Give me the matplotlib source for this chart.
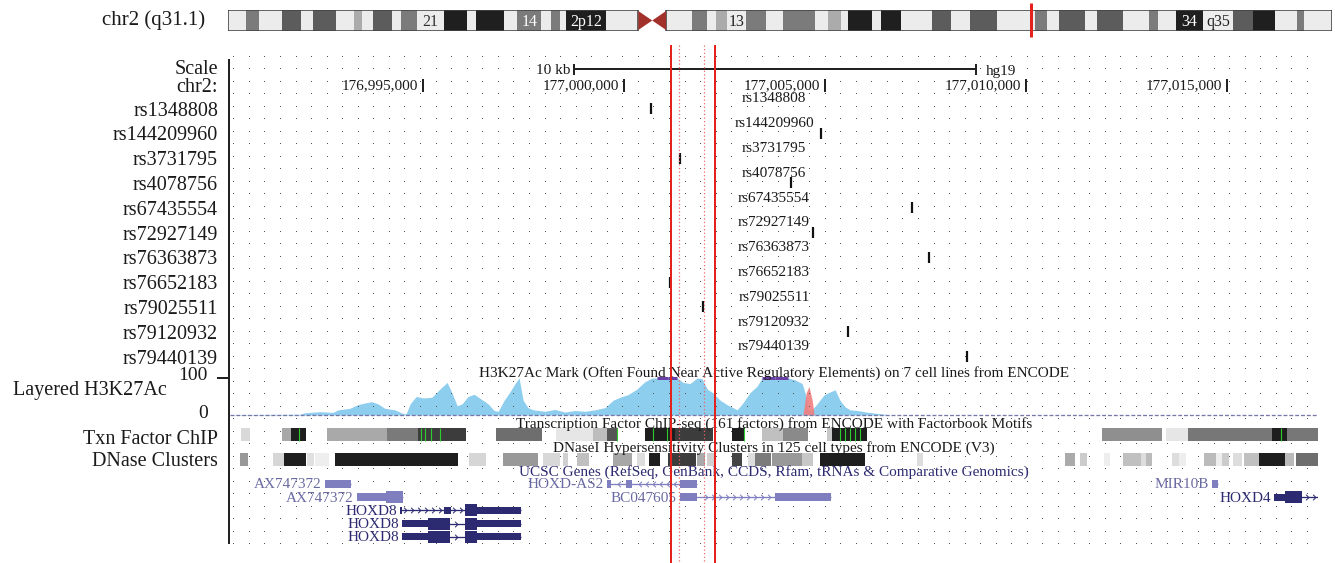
import numpy as np
import matplotlib
matplotlib.use("Agg")
import matplotlib.pyplot as plt
from matplotlib import transforms
from matplotlib.path import Path
from matplotlib.patches import Rectangle, Polygon
from matplotlib.lines import Line2D

plt.rcParams['font.family'] = ['Liberation Serif', 'DejaVu Serif']

# ------------------------------------------------------------------ data
view_kb = (176990.20, 177017.26)            # chr2 window shown (kb)
ruler_kb = [176995, 177000, 177005, 177010, 177015]
ruler_labels = ['176,995,000', '177,000,000', '177,005,000', '177,010,000', '177,015,000']
scalebar_kb = (176998.75, 177008.75)
highlight_kb = [177001.18, 177002.26]
highlight_dotted_kb = [177001.36, 177002.00]

snp_ids = ['rs1348808', 'rs144209960', 'rs3731795', 'rs4078756', 'rs67435554',
           'rs72927149', 'rs76363873', 'rs76652183', 'rs79025511', 'rs79120932',
           'rs79440139']
snp_pos_kb = [177000.67, 177004.90, 177001.39, 177004.15, 177007.16,
              177004.70, 177007.59, 177001.14, 177001.97, 177005.57, 177008.53]

# Layered H3K27Ac signal (0-100 scale, values above 100 are clipped)
h3k_pos_kb = [176990.20, 176991.94, 176992.06, 176992.44, 176992.76, 176992.89, 176993.18,
              176993.38, 176993.58, 176993.73, 176993.88, 176994.05, 176994.30, 176994.48,
              176994.58, 176994.68, 176994.83, 176995.02, 176995.22, 176995.42, 176995.60,
              176995.72, 176995.85, 176995.97, 176996.12, 176996.27, 176996.42, 176996.62,
              176996.77, 176996.87, 176997.02, 176997.16, 176997.29, 176997.39, 176997.49,
              176997.61, 176997.74, 176998.03, 176998.28, 176998.53, 176998.78, 176999.03,
              176999.28, 176999.53, 176999.73, 176999.90, 177000.10, 177000.32, 177000.52,
              177000.70, 177000.82, 177001.10, 177001.32, 177001.47, 177001.64, 177001.82,
              177001.94, 177002.07, 177002.21, 177002.39, 177002.56, 177002.71, 177002.81,
              177002.94, 177003.13, 177003.31, 177003.43, 177003.76, 177004.08, 177004.25,
              177004.43, 177004.53, 177004.58, 177004.68, 177004.80, 177004.98, 177005.12,
              177005.25, 177005.37, 177005.50, 177005.62, 177005.82, 177006.02, 177006.24,
              177006.49, 177006.62, 177017.26]
h3k_val = [1, 2, 6, 9, 7, 14, 18, 28, 33, 36, 30, 18, 14, 5, 3, 30, 50, 46, 48, 70, 88,
           60, 25, 30, 50, 56, 45, 30, 12, 10, 40, 62, 85, 100, 40, 20, 14, 10, 15, 8, 12,
           10, 14, 20, 40, 48, 55, 70, 90, 100, 110, 115, 108, 88, 85, 100, 98, 70, 60, 40,
           28, 20, 14, 30, 60, 78, 105, 110, 105, 95, 85, 50, 12, 15, 30, 55, 62, 68, 40,
           22, 14, 12, 8, 5, 2, 0, 0]
h3k_red_pos_kb = [177004.45, 177004.53, 177004.60, 177004.68, 177004.73]
h3k_red_val = [0, 60, 77, 40, 0]

# Txn Factor ChIP clusters
txn_start = [176990.47, 176991.49, 176991.72, 176992.61, 176994.10, 176994.88, 176996.82,
             176998.31, 176999.23, 176999.58, 177000.52, 177001.27, 177002.69, 177003.43,
             177003.96, 177005.05, 177005.17, 177011.89, 177013.48, 177014.03, 177016.12,
             177016.49]
txn_end = [176990.70, 176991.72, 176992.09, 176994.10, 176994.88, 176996.07, 176997.96,
           176999.23, 176999.58, 176999.85, 177001.27, 177002.21, 177003.01, 177003.96,
           177004.58, 177005.17, 177006.05, 177013.38, 177014.03, 177016.12, 177016.49,
           177017.26]
txn_shade = ['#d9d9d9', '#a8a8a8', '#1e1e1e', '#a9a9a9', '#7a7a7a', '#3c3c3c', '#6e6e6e',
             '#e6e6e6', '#bdbdbd', '#555555', '#1e1e1e', '#3c3c3c', '#1e1e1e', '#c0c0c0',
             '#8a8a8a', '#c8c8c8', '#1e1e1e', '#8f8f8f', '#e6e6e6', '#777777', '#1e1e1e',
             '#777777']
txn_motif_kb = [176991.92, 176994.95, 176995.05, 176995.20, 176995.42, 176999.83,
                177000.72, 177001.07, 177001.14, 177002.99, 177005.37, 177005.50,
                177005.62, 177005.75, 177005.87, 177016.34]

# DNase clusters
dnase_start = [176990.45, 176991.27, 176991.54, 176992.11, 176992.31, 176992.81, 176996.14,
               176996.99, 176997.99, 176998.48, 176998.83, 176999.73, 177000.32, 177000.62,
               177001.10, 177001.82, 177002.07, 177002.69, 177003.08, 177003.26, 177003.68,
               177004.43, 177004.88, 177007.29, 177010.97, 177011.34, 177011.94, 177012.41,
               177012.86, 177012.99, 177013.63, 177013.81, 177014.43, 177014.73, 177014.88,
               177015.15, 177015.42, 177015.80, 177016.44, 177016.72]
dnase_end = [176990.65, 176991.54, 176992.09, 176992.29, 176992.66, 176995.87, 176996.57,
             176997.86, 176998.41, 176998.61, 176999.13, 177000.20, 177000.52, 177000.90,
             177001.79, 177002.02, 177002.26, 177002.94, 177003.26, 177003.66, 177004.43,
             177004.70, 177006.00, 177007.44, 177011.22, 177011.52, 177012.09, 177012.86,
             177012.99, 177013.14, 177013.81, 177013.98, 177014.73, 177014.88, 177015.05,
             177015.37, 177015.80, 177016.44, 177016.67, 177017.26]
dnase_shade = ['#999999', '#d6d6d6', '#1e1e1e', '#e0e0e0', '#eeeeee', '#1e1e1e', '#d6d6d6',
               '#999999', '#d8d8d8', '#d0d0d0', '#c0c0c0', '#a7a7a7', '#dddddd', '#1e1e1e',
               '#3d3d3d', '#aaaaaa', '#d0d0d0', '#444444', '#dddddd', '#7b7b7b', '#999999',
               '#c8c8c8', '#1e1e1e', '#dddddd', '#aaaaaa', '#cccccc', '#eeeeee', '#c0c0c0',
               '#dddddd', '#bbbbbb', '#dddddd', '#eeeeee', '#bbbbbb', '#eeeeee', '#cccccc',
               '#dddddd', '#c0c0c0', '#1e1e1e', '#bbbbbb', '#6e6e6e']

# UCSC genes
gene_names = ['AX747372', 'HOXD-AS2', 'MIR10B', 'AX747372', 'BC047605', 'HOXD4',
              'HOXD8', 'HOXD8', 'HOXD8']
gene_row = [0, 0, 0, 1, 1, 1, 2, 3, 4]
gene_strand = ['-', '-', '+', '-', '+', '+', '+', '+', '+']
gene_start = [176992.56, 176999.58, 177014.63, 176993.36, 177001.39, 177016.17,
              176994.43, 176994.48, 176994.48]
gene_end = [176993.21, 177001.82, 177014.78, 176994.50, 177005.15, 177017.40,
            176997.44, 176997.44, 176997.44]
gene_coding = [False, False, False, False, False, True, True, True, True]
gene_thin = [[(176992.56, 176993.21)],
             [(176999.58, 176999.68), (177000.05, 177000.20), (177001.39, 177001.82)],
             [(177014.63, 177014.78)],
             [(176993.36, 176994.08)],
             [(177001.39, 177001.82), (177003.76, 177005.15)],
             [(177016.17, 177016.44)],
             [(176994.43, 176994.48), (176995.52, 176995.70), (176996.34, 176997.44)],
             [(176994.48, 176995.12), (176996.34, 176997.44)],
             [(176994.48, 176995.12), (176996.34, 176997.44)]]
gene_thick = [[], [], [], [(176994.08, 176994.50)], [], [(177016.44, 177016.87)],
              [(176996.04, 176996.34)],
              [(176995.12, 176995.67), (176996.04, 176996.34)],
              [(176995.12, 176995.67), (176996.04, 176996.34)]]

# chr2 ideogram (Mb)
chrom_len = 243.2
centromere = (90.4, 96.5)
highlight_mb = 177.0
p_edges = [0, 4.0, 6.8, 11.9, 16.1, 18.7, 23.8, 27.8, 29.5, 31.9, 36.1, 38.1, 41.6, 47.6,
           52.6, 54.6, 60.8, 63.7, 69.0, 71.2, 73.1, 74.5, 83.3, 90.4]
p_stain = ['n', 'p50', 'n', 'p75', 'n', 'p75', 'n', 'p25', 'n', 'p75', 'n', 'p50', 'n',
           'p100', 'n', 'p100', 'n', 'p50', 'n', 'p50', 'n', 'p100', 'n']
q_edges = [96.5, 102.2, 105.5, 107.5, 109.9, 114.1, 118.5, 122.3, 129.3, 132.2, 135.0,
           136.6, 141.9, 143.8, 148.3, 155.1, 159.3, 163.5, 169.4, 177.8, 180.4, 183.0,
           188.8, 191.4, 197.2, 202.9, 204.9, 208.8, 214.8, 221.4, 225.8, 230.6, 235.5,
           237.0, 243.2]
q_stain = ['n', 'p50', 'n', 'p25', 'n', 'p50', 'n', 'p50', 'n', 'p25', 'n', 'p100', 'n',
           'p100', 'n', 'p75', 'n', 'p75', 'n', 'p50', 'n', 'p75', 'n', 'p75', 'n', 'p50',
           'n', 'p100', 'n', 'p75', 'p100', 'n', 'p50', 'n']
band_labels = ['21', '14', '2p12', '13', '34', 'q35']
band_label_mb = [44.6, 66.35, 78.9, 112.0, 211.8, 218.1]
band_label_col = ['#333333', 'white', 'white', '#222222', 'white', '#222222']

# ------------------------------------------------------------------ styling
W, H = 1335, 563
TXT = '#1a1a1a'
LIGHT_GENE = '#7f7fc0'
DARK_GENE = '#2c2a70'
LIGHT_GENE_TXT = '#6a6aa2'
stain_col = {'n': '#ececec', 'p25': '#ababab', 'p50': '#7b7b7b', 'p75': '#5c5c5c',
             'p100': '#1f1f1f'}
LBL = 14.5     # left label font size
DY = 2         # baseline correction for vertically centred text (pixels)


def rect(x0, y0, x1, y1):
    return [x0 / W, 1 - y1 / H, (x1 - x0) / W, (y1 - y0) / H]


def px(v):           # pixels -> points
    return v * 72.0 / 100.0


fig = plt.figure(figsize=(W / 100, H / 100), dpi=100, facecolor='white')


def left_label(xpx, ypx, s, size=LBL):
    fig.text(xpx / W, 1 - (ypx + DY) / H, s, ha='right', va='center', fontsize=size,
             color=TXT)


# --- ideogram
axi = fig.add_axes(rect(228, 10, 1332, 31))
axi.set_xlim(0, chrom_len)
axi.set_ylim(0, 1)
axi.axis('off')
for edges, stains in ((p_edges, p_stain), (q_edges, q_stain)):
    for s, e, st in zip(edges[:-1], edges[1:], stains):
        axi.add_patch(Rectangle((s, 0), e - s, 1, facecolor=stain_col[st], lw=0))
    axi.add_patch(Rectangle((edges[0], 0), edges[-1] - edges[0], 1, fill=False,
                            edgecolor='#444444', lw=px(1.6)))
cmid = (centromere[0] + centromere[1]) / 2
axi.add_patch(Polygon([(centromere[0], 0.05), (centromere[0], 0.95), (cmid, 0.5)],
                      closed=True, facecolor='#a3312b', lw=0))
axi.add_patch(Polygon([(centromere[1], 0.05), (centromere[1], 0.95), (cmid, 0.5)],
                      closed=True, facecolor='#a3312b', lw=0))
for lab, pos, col in zip(band_labels, band_label_mb, band_label_col):
    axi.text(pos, 0.45, lab, ha='center', va='center', fontsize=11.5, color=col)
axi.plot([highlight_mb, highlight_mb], [-0.3, 1.35], color='#e3221c', lw=px(3),
         clip_on=False, solid_capstyle='butt')
left_label(205, 18, 'chr2 (q31.1)', size=15)

# --- signal axes (below main overlay)
axs = fig.add_axes(rect(230, 378, 1318, 415), zorder=1)
axs.set_xlim(*view_kb)
axs.set_ylim(0, 100)
axs.axis('off')
hp = np.array(h3k_pos_kb)
hv = np.array(h3k_val, dtype=float)
axs.fill_between(hp, 0, np.minimum(hv, 100), color='#8dcdee', lw=0)
axs.fill_between(h3k_red_pos_kb, 0, h3k_red_val, color='#f07e7e', lw=0, alpha=0.9)
over = hv > 100
for i in range(len(hp) - 1):
    if over[i] and over[i + 1]:
        axs.plot([hp[i], hp[i + 1]], [99, 99], color='#6a3fa6', lw=px(3),
                 solid_capstyle='butt', clip_on=False)
axs.plot(view_kb, [0.5, 0.5], color='#7878a8', lw=px(1.3), ls=(0, (3, 1.5)),
         clip_on=False)

# --- main overlay axes (x = kb, y = pixel rows)
ax = fig.add_axes(rect(230, 0, 1318, 563), zorder=2)
ax.set_xlim(*view_kb)
ax.set_ylim(H, 0)
ax.axis('off')
ax.patch.set_alpha(0)
rowtr = ax.get_yaxis_transform()


def off(dx):
    return transforms.offset_copy(ax.transData, fig=fig, x=dx, y=0, units='dots')


# dotted guide grid
kb_per_px = (view_kb[1] - view_kb[0]) / 1088.0
gx = np.arange(view_kb[0] + 3.3 * kb_per_px, view_kb[1], 15.56 * kb_per_px)
gy = 56.7 + 12.5 * np.arange(40)
GX, GY = np.meshgrid(gx, gy)
ax.plot(GX.ravel(), GY.ravel(), ',', color='#555555', zorder=1)

# axis line at left
fig.add_artist(Line2D([229 / W, 229 / W], [1 - 543 / H, 1 - 60 / H], color='#222222',
                      lw=px(2)))

# scale bar + ruler
ax.hlines(69, *scalebar_kb, color='#222222', lw=px(2), zorder=3)
ax.vlines(scalebar_kb, 64, 75, color='#222222', lw=px(2), zorder=3)
ax.text(scalebar_kb[0], 70 + 1, '10 kb', ha='right', va='center', fontsize=11, color=TXT,
        transform=off(-3))
ax.text(scalebar_kb[1], 70 + 1, 'hg19', ha='left', va='center', fontsize=11, color=TXT,
        transform=off(10))
ax.vlines(ruler_kb, 79, 92, color='#222222', lw=px(2), zorder=3)
for p, lab in zip(ruler_kb, ruler_labels):
    ax.text(p, 86, lab, ha='right', va='center', fontsize=11, color=TXT,
            transform=off(-5))

left_label(218, 68, 'Scale')
left_label(218, 85, 'chr2:')

# SNP tracks
for i, (sid, pos) in enumerate(zip(snp_ids, snp_pos_kb)):
    ytop = 98 + 24.8 * i
    ax.text(0.5, ytop + 1, sid, transform=rowtr, ha='center', va='center', fontsize=11,
            color=TXT, zorder=4)
    ax.vlines(pos, ytop + 5, ytop + 16, color='#111111', lw=px(2.2), zorder=4)
    left_label(218, ytop + 11, sid)

# H3K27Ac labels
ax.text(0.5, 373, 'H3K27Ac Mark (Often Found Near Active Regulatory Elements) on 7 cell '
        'lines from ENCODE', transform=rowtr, ha='center', va='center', fontsize=11,
        color=TXT, zorder=4)
left_label(167, 388, 'Layered H3K27Ac')
left_label(208, 374, '100', size=14)
left_label(208, 411, '0', size=14)
fig.add_artist(Line2D([218 / W, 229 / W], [1 - 378 / H, 1 - 378 / H], color='#222222',
                      lw=px(2)))

# Txn factor track
ax.text(0.5, 424, 'Transcription Factor ChIP-seq (161 factors) from ENCODE with '
        'Factorbook Motifs', transform=rowtr, ha='center', va='center', fontsize=11,
        color=TXT, zorder=4)
ax.broken_barh([(s, e - s) for s, e in zip(txn_start, txn_end)], (428, 13),
               facecolors=txn_shade, lw=0, zorder=3)
ax.vlines(txn_motif_kb, 428, 441, color='#2ecc2e', lw=px(1.1), zorder=3.5)
left_label(218, 437, 'Txn Factor ChIP')

# DNase track
ax.text(0.5, 448, 'DNaseI Hypersensitivity Clusters in 125 cell types from ENCODE (V3)',
        transform=rowtr, ha='center', va='center', fontsize=11, color=TXT, zorder=4)
ax.broken_barh([(s, e - s) for s, e in zip(dnase_start, dnase_end)], (453, 13),
               facecolors=dnase_shade, lw=0, zorder=3)
left_label(218, 460, 'DNase Clusters')

# Genes
ax.text(0.5, 472, 'UCSC Genes (RefSeq, GenBank, CCDS, Rfam, tRNAs & Comparative Genomics)',
        transform=rowtr, ha='center', va='center', fontsize=11, color=DARK_GENE, zorder=4)
row_y = [484, 497.2, 510.4, 523.6, 536.8]
chev_r = Path([(-0.5, 1), (0.5, 0), (-0.5, -1)], [Path.MOVETO, Path.LINETO, Path.LINETO])
chev_l = Path([(0.5, 1), (-0.5, 0), (0.5, -1)], [Path.MOVETO, Path.LINETO, Path.LINETO])
for name, r, strand, s, e, coding, thin, thick in zip(gene_names, gene_row, gene_strand,
                                                     gene_start, gene_end, gene_coding,
                                                     gene_thin, gene_thick):
    y = row_y[r]
    col = DARK_GENE if coding else LIGHT_GENE
    tcol = DARK_GENE if coding else LIGHT_GENE_TXT
    ax.hlines(y, s, e, color=col, lw=px(1.3), zorder=3)
    hthin = 7 if coding else 8
    for bs, be in thin:
        ax.add_patch(Rectangle((bs, y - hthin / 2), be - bs, hthin, facecolor=col, lw=0,
                               zorder=3))
    for bs, be in thick:
        ax.add_patch(Rectangle((bs, y - 6), be - bs, 12, facecolor=col, lw=0, zorder=3))
    blocks = thin + thick
    xs = np.arange(s + 0.12, e - 0.06, 7 * kb_per_px)
    xs = [x for x in xs if not any(bs - 0.06 <= x <= be + 0.06 for bs, be in blocks)]
    if xs:
        ax.plot(xs, [y] * len(xs), ls='none', marker=chev_r if strand == '+' else chev_l,
                ms=4, mfc='none', mec=col, mew=px(1.0), zorder=3)
    ax.text(s, y + 1, name, ha='right', va='center', fontsize=11, color=tcol,
            transform=off(-3), zorder=4)

# highlight lines
ax.vlines(highlight_kb, 45, H, color='#e3221c', lw=px(2), zorder=10)
ax.vlines(highlight_dotted_kb, 45, H, color='#f06060', lw=px(1.2), linestyles=(0, (1, 2)),
          zorder=10)

fig.savefig('out.png', dpi=100, facecolor='white')
